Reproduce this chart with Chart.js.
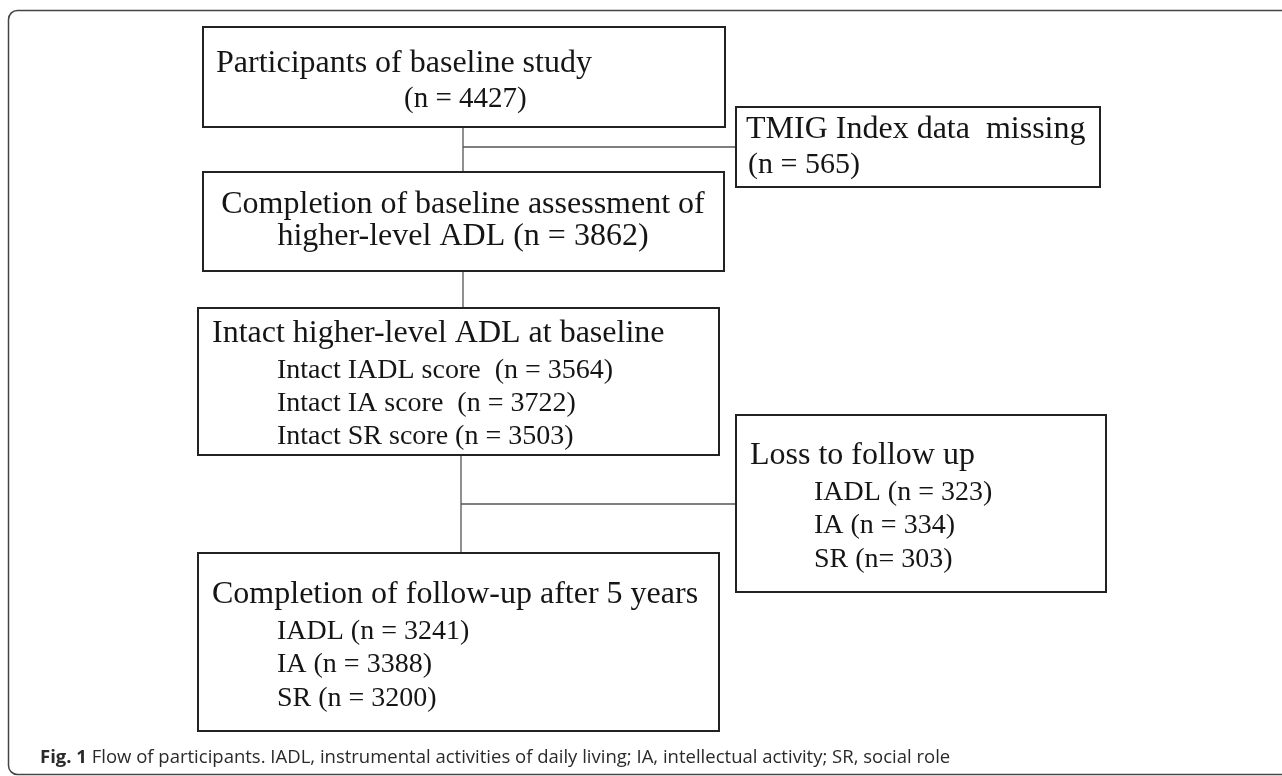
<!DOCTYPE html>
<html>
<head>
<meta charset="utf-8">
<script src="https://cdn.jsdelivr.net/npm/chart.js@4.4.0/dist/chart.umd.min.js"></script>
<style>
  html, body { margin: 0; padding: 0; background: #fff; }
  #wrap { width: 1282px; height: 776px; position: relative; }
</style>
</head>
<body>
<div id="wrap"><canvas id="flow"></canvas></div>
<script>
// --- DATA ---
const domains = ['IADL', 'IA', 'SR'];
const baselineN = 4427;
const missingN = 565;
const assessedN = 3862;
const intactN = [3564, 3722, 3503];
const lossN = [323, 334, 303];
const followUpN = [3241, 3388, 3200];
const caption = ['Fig. 1', ' Flow of participants. IADL, instrumental activities of daily living; IA, intellectual activity; SR, social role'];

// --- LAYOUT (figure units; the hidden scales map them 1:1 to the canvas) ---
const boxes = {
  baseline: { x0: 203, y0: 27,  x1: 725,  y1: 127 },
  missing:  { x0: 736, y0: 107, x1: 1100, y1: 187 },
  assessed: { x0: 203, y0: 172, x1: 724,  y1: 271 },
  intact:   { x0: 198, y0: 308, x1: 719,  y1: 455 },
  loss:     { x0: 736, y0: 415, x1: 1106, y1: 592 },
  followUp: { x0: 198, y0: 553, x1: 719,  y1: 731 }
};
const spineTop = 463, spineBottom = 461;
const serif = '"Liberation Serif", "Times New Roman", serif';

const texts = [
  { t: 'Participants of baseline study', x: 216, y: 72, s: 32 },
  { t: `(n = ${baselineN})`, x: 404, y: 107, s: 29 },
  { t: 'TMIG Index data  missing', x: 746, y: 138, s: 32 },
  { t: `(n = ${missingN})`, x: 748, y: 173, s: 30 },
  { t: 'Completion of baseline assessment of', x: 463, y: 213, s: 32, center: true },
  { t: `higher-level ADL (n = ${assessedN})`, x: 463, y: 245, s: 32, center: true },
  { t: 'Intact higher-level ADL at baseline', x: 212, y: 342, s: 32 },
  { t: `Intact ${domains[0]} score  (n = ${intactN[0]})`, x: 277, y: 378, s: 28 },
  { t: `Intact ${domains[1]} score  (n = ${intactN[1]})`, x: 277, y: 411, s: 28 },
  { t: `Intact ${domains[2]} score (n = ${intactN[2]})`, x: 277, y: 444, s: 28 },
  { t: 'Loss to follow up', x: 750, y: 464, s: 32 },
  { t: `${domains[0]} (n = ${lossN[0]})`, x: 814, y: 500, s: 28 },
  { t: `${domains[1]} (n = ${lossN[1]})`, x: 814, y: 533, s: 28 },
  { t: `${domains[2]} (n= ${lossN[2]})`, x: 814, y: 567, s: 28 },
  { t: 'Completion of follow-up after 5 years', x: 212, y: 603, s: 32 },
  { t: `${domains[0]} (n = ${followUpN[0]})`, x: 277, y: 639, s: 28 },
  { t: `${domains[1]} (n = ${followUpN[1]})`, x: 277, y: 672, s: 28 },
  { t: `${domains[2]} (n = ${followUpN[2]})`, x: 277, y: 706, s: 28 }
];

// connectors between boxes, built from the box edges
const links = [
  [[spineTop, boxes.baseline.y1], [spineTop, boxes.assessed.y0]],
  [[spineTop, 147], [boxes.missing.x0, 147]],
  [[spineTop, boxes.assessed.y1], [spineTop, boxes.intact.y0]],
  [[spineBottom, boxes.intact.y1], [spineBottom, boxes.followUp.y0]],
  [[spineBottom, 504], [boxes.loss.x0, 504]]
];

const flowPlugin = {
  id: 'flowBoxes',
  beforeDraw(chart) {
    const ctx = chart.ctx;
    const sx = chart.scales.x, sy = chart.scales.y;
    // outer figure frame
    ctx.save();
    ctx.strokeStyle = '#444';
    ctx.lineWidth = 1.5;
    ctx.beginPath();
    ctx.roundRect(sx.getPixelForValue(8.5), sy.getPixelForValue(10.5), 1300, 764, 9);
    ctx.stroke();
    ctx.restore();
  },
  afterDatasetsDraw(chart) {
    const ctx = chart.ctx;
    const sx = chart.scales.x, sy = chart.scales.y;
    ctx.save();
    ctx.strokeStyle = '#222';
    ctx.lineWidth = 2;
    Object.values(boxes).forEach(b => {
      const x0 = sx.getPixelForValue(b.x0), y0 = sy.getPixelForValue(b.y0);
      const x1 = sx.getPixelForValue(b.x1), y1 = sy.getPixelForValue(b.y1);
      ctx.strokeRect(x0, y0, x1 - x0, y1 - y0);
    });
    ctx.fillStyle = '#151515';
    ctx.textBaseline = 'alphabetic';
    texts.forEach(l => {
      ctx.font = `${l.s}px ${serif}`;
      ctx.textAlign = l.center ? 'center' : 'left';
      ctx.fillText(l.t, sx.getPixelForValue(l.x), sy.getPixelForValue(l.y));
    });
    // caption
    ctx.textAlign = 'left';
    ctx.fillStyle = '#2a2a2a';
    ctx.font = 'bold 18.5px "Open Sans", sans-serif';
    const cx = sx.getPixelForValue(40), cy = sy.getPixelForValue(763);
    ctx.fillText(caption[0], cx, cy);
    const w = ctx.measureText(caption[0]).width;
    ctx.font = '18.5px "Open Sans", sans-serif';
    ctx.fillText(caption[1], cx + w, cy, sx.getPixelForValue(955) - cx - w);
    ctx.restore();
  }
};

new Chart(document.getElementById('flow'), {
  type: 'scatter',
  data: {
    datasets: links.map(seg => ({
      data: seg.map(p => ({ x: p[0], y: p[1] })),
      showLine: true,
      borderColor: '#555',
      borderWidth: 1.3,
      pointRadius: 0,
      fill: false
    }))
  },
  options: {
    responsive: true,
    maintainAspectRatio: false,
    animation: false,
    events: [],
    layout: { padding: 0 },
    plugins: { legend: { display: false }, tooltip: { enabled: false } },
    scales: {
      x: { type: 'linear', min: 0, max: 1282, display: false },
      y: { type: 'linear', min: 0, max: 776, reverse: true, display: false }
    }
  },
  plugins: [flowPlugin]
});
</script>
</body>
</html>
